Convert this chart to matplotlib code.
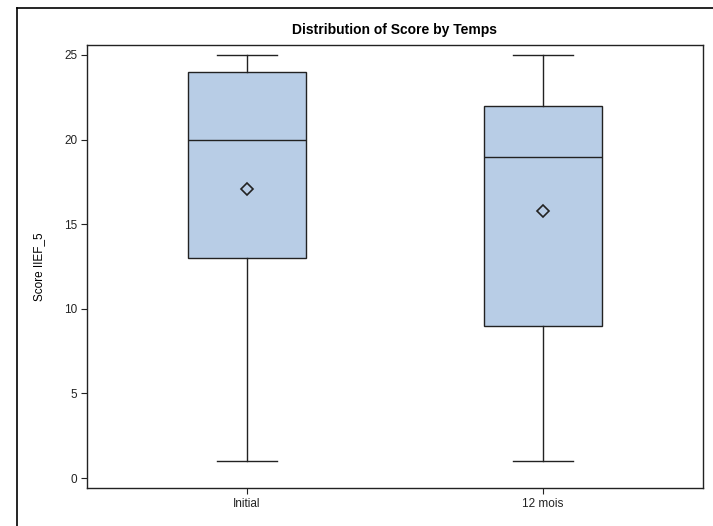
import matplotlib
matplotlib.use("Agg")
import matplotlib.pyplot as plt
from matplotlib.lines import Line2D

plt.rcParams['font.family'] = ['Liberation Sans', 'DejaVu Sans']

# box plot summary values
groups = ['Initial', '12 mois']
mins = [1, 1]
q1s = [13, 9]
medians = [20, 19]
q3s = [24, 22]
maxs = [25, 25]
means = [17.1, 15.8]

stats = []
for i in range(len(groups)):
    stats.append({'label': groups[i], 'whislo': mins[i], 'q1': q1s[i], 'med': medians[i],
                  'q3': q3s[i], 'whishi': maxs[i], 'mean': means[i], 'fliers': []})

fig = plt.figure(figsize=(7.13, 5.26), dpi=100)
ax = fig.add_axes([87/713, 38/526, 616/713, 443/526])

ax.bxp(stats, positions=[0, 1], widths=0.4, patch_artist=True, showmeans=True,
       showfliers=False,
       boxprops=dict(facecolor='#B8CDE6', edgecolor='#222222', linewidth=1),
       medianprops=dict(color='#222222', linewidth=1),
       whiskerprops=dict(color='#222222', linewidth=1),
       capprops=dict(color='#222222', linewidth=1),
       capwidths=0.2,
       meanprops=dict(marker='D', markerfacecolor='none', markeredgecolor='#222222',
                      markersize=6, markeredgewidth=1.2))

ax.set_xlim(-0.54, 1.54)
ax.set_ylim(-0.59, 25.59)
ax.set_yticks([0, 5, 10, 15, 20, 25])
ax.set_xticks([0, 1])
ax.set_xticklabels(groups)
ax.tick_params(axis='both', direction='out', length=4, width=0.8, labelsize=8.5,
               colors='#222222', pad=3)
for s in ax.spines.values():
    s.set_color('#222222')
    s.set_linewidth(1)

ax.set_ylabel('Score IIEF_5', fontsize=8.5, labelpad=14)
ax.set_title('Distribution of Score by Temps', fontsize=10, fontweight='bold', pad=8)

# outer frame of the graph area
fig.add_artist(Line2D([17/713, 17/713], [0, 1 - 8/526], transform=fig.transFigure,
                      color='black', linewidth=1.2))
fig.add_artist(Line2D([17/713, 1], [1 - 8/526, 1 - 8/526], transform=fig.transFigure,
                      color='black', linewidth=1.2))

fig.savefig('out.png', dpi=100)
